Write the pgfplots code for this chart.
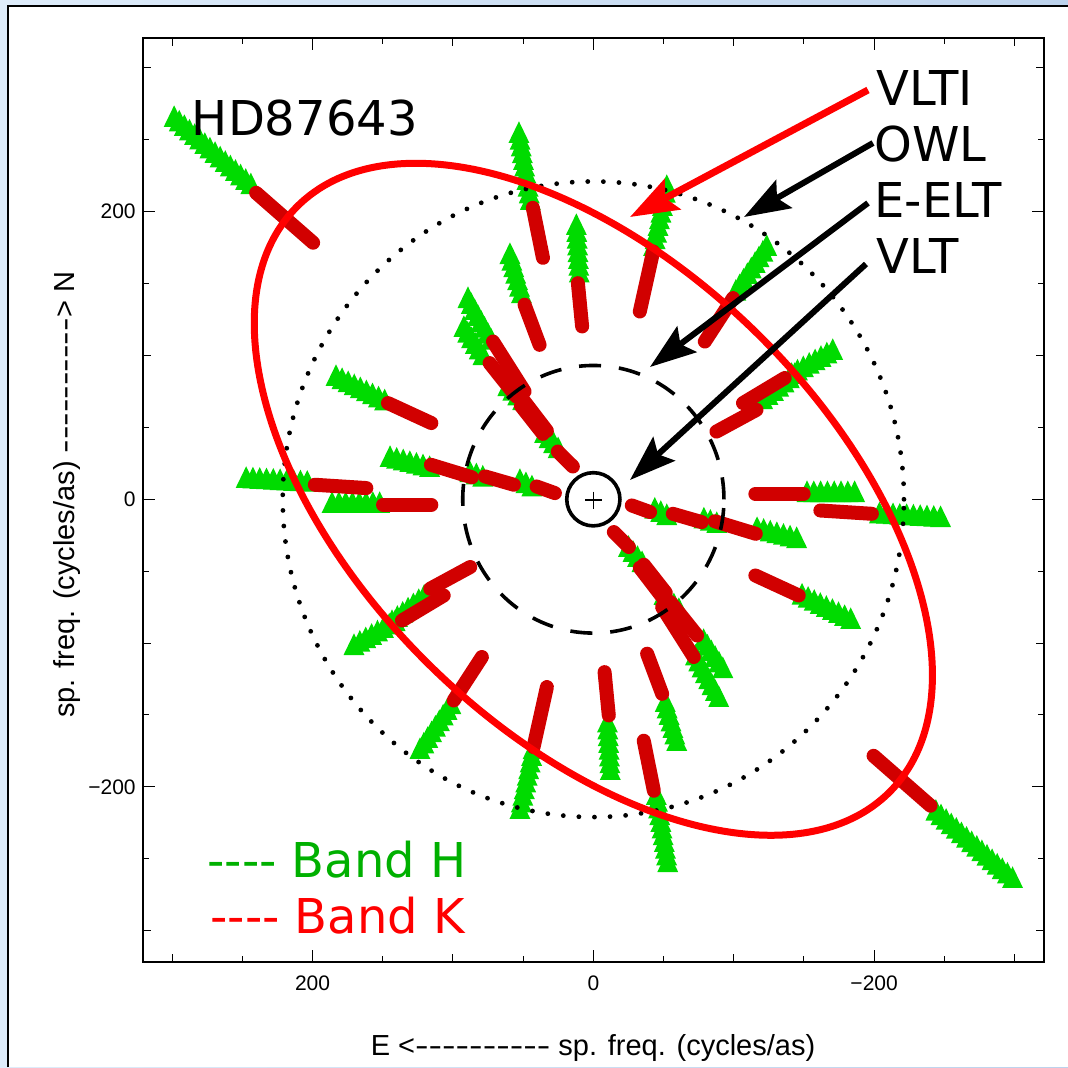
\documentclass[border=0pt]{standalone}
\usepackage{fontspec}
\setmainfont{Liberation Sans}
\newfontfamily\dejavu{DejaVu Sans}
\usepackage{graphicx}
\usepackage{pgfplots}
\pgfplotsset{compat=1.18}
\usetikzlibrary{arrows.meta,decorations.markings}

\definecolor{hgreen}{rgb}{0,0.86,0}
\definecolor{ktrack}{rgb}{0.82,0,0}
\definecolor{txtgreen}{rgb}{0,0.69,0}

\pgfplotsset{
  gtrack/.style={hgreen, line width=2.8pt, no marks, line cap=butt,
    postaction={decorate, decoration={markings,
      mark=between positions 0 and 1 step 3.4pt with {\pgftransformresetnontranslations
        \fill[hgreen] (-3pt,-2.7pt) -- (3pt,-2.7pt) -- (0pt,3.5pt) -- cycle;}}}},
  rtrack/.style={ktrack, line width=7pt, line cap=round, no marks},
}
\newcommand{\G}[4]{\addplot[gtrack] coordinates {(#1,#2) (#3,#4)};}
\newcommand{\R}[4]{\addplot[rtrack] coordinates {(#1,#2) (#3,#4)};}
\newcommand{\dashes}{-{}-{}-{}-{}-{}-{}-{}-{}-{}-}

\begin{document}
\begin{tikzpicture}
\path[use as bounding box] (0,0) rectangle (534pt,533.5pt);
\shade[left color={rgb,255:red,222;green,236;blue,250}, right color={rgb,255:red,188;green,210;blue,236}] (0,0) rectangle (534pt,533.5pt);
\fill[white] (4pt,0) rectangle (534pt,530.5pt);
\draw[line width=0.6pt] (4pt,0) -- (4pt,530.5pt) -- (534pt,530.5pt);

\begin{axis}[
  at={(71.35pt,52.35pt)}, anchor=south west,
  scale only axis, width=450.65pt, height=462.3pt,
  x dir=reverse,
  xmin=-321, xmax=321, ymin=-322, ymax=321,
  axis line style={line width=0.9pt},
  xtick={-200,0,200}, xticklabels={−200,0,200},
  ytick={-200,0,200}, yticklabels={−200,0,200},
  extra x ticks={-300,-100,100,300}, extra x tick labels={},
  extra y ticks={-300,-100,100,300}, extra y tick labels={},
  extra x tick style={major tick length=4pt},
  extra y tick style={major tick length=4pt},
  minor xtick={-250,-150,-50,50,150,250},
  minor ytick={-250,-150,-50,50,150,250},
  major tick length=6pt, minor tick length=3pt,
  tick style={line width=0.5pt, black},
  tick align=inside, tick pos=both,
  tick label style={font=\fontsize{10.5}{12}\selectfont},
  xticklabel style={yshift=-3pt},
  clip=true,
]
% ---- H band (green), upper half
\G{298.6}{264.6}{243.0}{217.0}
\G{53.0}{253.5}{44.5}{204.8}
\G{12.1}{189.5}{9.8}{152.6}
\G{59.4}{169.3}{50.2}{138.7}
\G{183.3}{84.5}{147.7}{67.1}
\G{247.3}{13.6}{200.4}{10.8}
\G{186.1}{-3.8}{151.2}{-3.8}
\G{144.8}{28.2}{116.4}{21.2}
\G{87.9}{17.7}{77.9}{14.3}
\G{52.3}{12.2}{40.2}{5.9}
\G{89.3}{138.7}{72.7}{109.7}
\G{92.2}{118.6}{76.3}{95.8}
\G{60.9}{77.5}{48.8}{66.4}
\G{34.7}{44.9}{24.1}{33.2}
\G{-52.3}{216.6}{-42.6}{173.5}
\G{-123.5}{174.9}{-99.5}{141.0}
\G{-170.5}{102.6}{-139.9}{85.2}
\G{-143.4}{85.9}{-117.1}{65.7}
% ---- H band (green), lower half
\G{-298.6}{-264.6}{-243.0}{-217.0}
\G{-53.0}{-253.5}{-44.5}{-204.8}
\G{-12.1}{-189.5}{-9.8}{-152.6}
\G{-59.4}{-169.3}{-50.2}{-138.7}
\G{-183.3}{-84.5}{-147.7}{-67.1}
\G{-247.3}{-13.6}{-200.4}{-10.8}
\G{-186.1}{3.8}{-151.2}{3.8}
\G{-144.8}{-28.2}{-116.4}{-21.2}
\G{-87.9}{-17.7}{-77.9}{-14.3}
\G{-52.3}{-12.2}{-40.2}{-5.9}
\G{-89.3}{-138.7}{-72.7}{-109.7}
\G{-92.2}{-118.6}{-76.3}{-95.8}
\G{-60.9}{-77.5}{-48.8}{-66.4}
\G{-34.7}{-44.9}{-24.1}{-33.2}
\G{52.3}{-216.6}{42.6}{-173.5}
\G{123.5}{-174.9}{99.5}{-141.0}
\G{170.5}{-102.6}{139.9}{-85.2}
\G{143.4}{-85.9}{117.1}{-65.7}
% ---- K band (red), upper half
\R{240.2}{213.1}{199.6}{178.4}
\R{43.1}{202.7}{35.9}{167.9}
\R{11.0}{150.3}{8.0}{120.2}
\R{49.0}{135.3}{38.3}{107.4}
\R{146.3}{66.9}{115.4}{53.0}
\R{198.4}{10.1}{161.7}{7.8}
\R{149.8}{-3.8}{115.4}{-3.8}
\R{115.7}{24.0}{86.5}{15.3}
\R{77.2}{15.9}{56.6}{10.1}
\R{40.4}{8.9}{27.4}{4.3}
\R{71.5}{109.7}{49.0}{75.0}
\R{73.9}{94.7}{54.9}{71.5}
\R{49.5}{68.5}{33.1}{47.6}
\R{51.6}{65.0}{35.9}{45.5}
\R{25.3}{33.2}{14.6}{22.8}
\R{-42.6}{172.3}{-33.1}{130.6}
\R{-99.5}{139.9}{-79.4}{109.7}
\R{-136.3}{84.3}{-106.6}{66.9}
\R{-116.2}{62.2}{-87.7}{47.1}
% ---- K band (red), lower half
\R{-240.2}{-213.1}{-199.6}{-178.4}
\R{-43.1}{-202.7}{-35.9}{-167.9}
\R{-11.0}{-150.3}{-8.0}{-120.2}
\R{-49.0}{-135.3}{-38.3}{-107.4}
\R{-146.3}{-66.9}{-115.4}{-53.0}
\R{-198.4}{-10.1}{-161.7}{-7.8}
\R{-149.8}{3.8}{-115.4}{3.8}
\R{-115.7}{-24.0}{-86.5}{-15.3}
\R{-77.2}{-15.9}{-56.6}{-10.1}
\R{-40.4}{-8.9}{-27.4}{-4.3}
\R{-71.5}{-109.7}{-49.0}{-75.0}
\R{-73.9}{-94.7}{-54.9}{-71.5}
\R{-49.5}{-68.5}{-33.1}{-47.6}
\R{-51.6}{-65.0}{-35.9}{-45.5}
\R{-25.3}{-33.2}{-14.6}{-22.8}
\R{42.6}{-172.3}{33.1}{-130.6}
\R{99.5}{-139.9}{79.4}{-109.7}
\R{136.3}{-84.3}{106.6}{-66.9}
\R{116.2}{-62.2}{87.7}{-47.1}
% ---- telescope resolution circles
\draw[black, line width=2.4pt, dash pattern=on 0pt off 7.8pt, line cap=round] (axis cs:0,0) ellipse [x radius=155.3pt, y radius=158.9pt];
\draw[black, line width=1.8pt, dash pattern=on 11pt off 9pt] (axis cs:0,0) ellipse [x radius=65.3pt, y radius=66.9pt];
\draw[black, line width=1.8pt] (axis cs:0,0) circle [radius=13.3pt];
\draw[red, line width=3.5pt] (axis cs:0,0) ellipse [x radius=208.25pt, y radius=116.55pt, rotate=-44.5];
\end{axis}

\begin{scope}[x=0.5pt, y=-0.5pt, yshift=533.5pt]
\draw[black, line width=0.7pt] (585,500) -- (602,500) (593.5,491.5) -- (593.5,508.5);
\draw[red, line width=3.5pt, -{Stealth[length=24pt, width=17pt, inset=4pt]}] (868,90) -- (630,217);
\draw[black, line width=3pt, -{Stealth[length=23pt, width=16pt, inset=4pt]}] (873,143) -- (744,217);
\draw[black, line width=3pt, -{Stealth[length=23pt, width=16pt, inset=4pt]}] (868,203) -- (650,367);
\draw[black, line width=3pt, -{Stealth[length=23pt, width=16pt, inset=4pt]}] (866,264) -- (630,480);
\begin{scope}[every node/.style={anchor=base west, inner sep=0pt, font=\dejavu\fontsize{24}{28}\selectfont}]
\node at (876,106) {VLTI};
\node at (874,161.7) {OWL};
\node at (874,217.3) {E-ELT};
\node at (876,273.3) {VLT};
\node at (191.5,136) {HD87643};
\node[text=txtgreen] at (207,877.3) {-{}-{}-{}- Band H};
\node[text=red] at (210,933.3) {-{}-{}-{}- Band K};
\end{scope}
\node[anchor=base, inner sep=0pt, font=\fontsize{14.5}{17}\selectfont] at (593,1055) {E <\scalebox{1.4}[1]{\dashes} sp. freq. (cycles/as)};
\node[anchor=base, inner sep=0pt, rotate=90, font=\fontsize{14.5}{17}\selectfont] at (74,495) {sp. freq. (cycles/as) \scalebox{1.4}[1]{\dashes}> N};
\end{scope}
\end{tikzpicture}
\end{document}
